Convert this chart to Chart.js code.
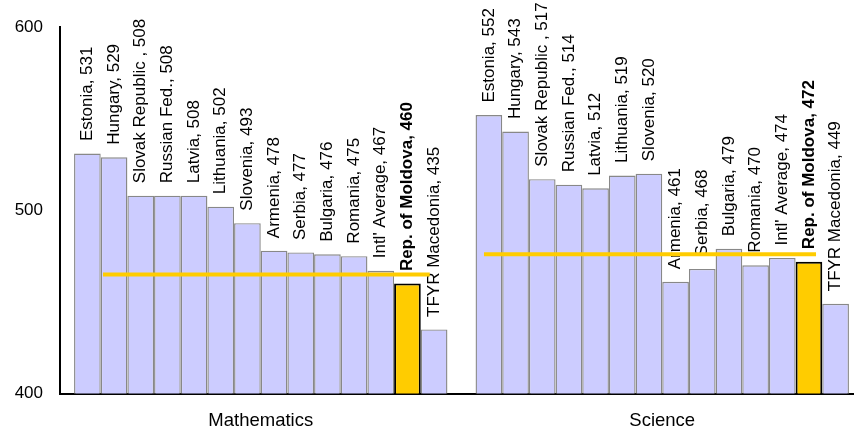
<!DOCTYPE html>
<html>
<head>
<meta charset="utf-8">
<script src="https://cdn.jsdelivr.net/npm/chart.js@4/dist/chart.umd.min.js"></script>
<style>
  html, body { margin: 0; padding: 0; background: #fff; overflow: hidden; }
  #wrap { width: 866px; height: 428px; }
</style>
</head>
<body>
<div id="wrap"><canvas id="c" width="866" height="428"></canvas></div>
<script>
// Subjects shown as the two bar groups
const categories = ['Mathematics', 'Science'];
// Countries, in the order their bars appear inside each group
const countries = [
  'Estonia', 'Hungary', 'Slovak Republic ', 'Russian Fed.', 'Latvia', 'Lithuania',
  'Slovenia', 'Armenia', 'Serbia', 'Bulgaria', 'Romania', "Intl' Average",
  'Rep. of Moldova', 'TFYR Macedonia'
];
const mathScores    = [531, 529, 508, 508, 508, 502, 493, 478, 477, 476, 475, 467, 460, 435];
const scienceScores = [552, 543, 517, 514, 512, 519, 520, 461, 468, 479, 470, 474, 472, 449];
// Reference level of the yellow bar drawn across each group
const averageLevel = [465, 476];
const yTicks = [400, 500, 600];
const highlighted = 'Rep. of Moldova';

const FONT = "'Liberation Sans', Arial, Helvetica, sans-serif";
Chart.defaults.font.family = FONT;
Chart.defaults.color = '#000';

// One bar dataset per country; x is the group index (0 = Mathematics, 1 = Science)
const barSets = countries.map((name, i) => {
  const hi = name === highlighted;
  return {
    type: 'bar',
    label: name,
    data: [mathScores[i], scienceScores[i]].map((v, g) => ({ x: g, y: v })),
    backgroundColor: hi ? '#ffcc00' : '#ccccff',
    borderColor: hi ? '#000000' : '#888888',
    borderWidth: hi ? 2 : 1.4,
    borderSkipped: 'bottom',
    categoryPercentage: 0.93,
    barPercentage: 1,
    order: 2
  };
});

// Horizontal average bars, placed on the same group-index axis
const lineSpans = [[-0.393, 0.421], [0.556, 1.383]];
const lineSets = averageLevel.map((lvl, g) => ({
  type: 'line',
  data: [{ x: lineSpans[g][0], y: lvl }, { x: lineSpans[g][1], y: lvl }],
  borderColor: '#ffcc00',
  borderWidth: 4,
  pointRadius: 0,
  fill: false,
  order: 1
}));

// Rotated "Country, value" text above each bar
const barLabels = {
  id: 'barLabels',
  afterDatasetDraw(chart, args) {
    const meta = args.meta;
    if (meta.type !== 'bar') return;
    const ds = chart.data.datasets[args.index];
    const ctx = chart.ctx;
    const bold = ds.label === highlighted;
    meta.data.forEach((bar, j) => {
      const text = ds.label + ', ' + ds.data[j].y;
      ctx.save();
      ctx.translate(bar.x, bar.y - 12.5);
      ctx.rotate(-Math.PI / 2);
      ctx.font = (bold ? 'bold ' : '') + '17px ' + FONT;
      ctx.fillStyle = '#000';
      ctx.textAlign = 'left';
      ctx.textBaseline = 'middle';
      ctx.fillText(text, 0, 0);
      ctx.restore();
    });
  }
};

new Chart(document.getElementById('c'), {
  type: 'bar',
  data: { datasets: [...barSets, ...lineSets] },
  options: {
    responsive: false,
    devicePixelRatio: 1,
    animation: false,
    events: [],
    layout: { padding: { top: 27, right: 3, left: 0, bottom: 0 } },
    plugins: { legend: { display: false }, tooltip: { enabled: false } },
    scales: {
      x: {
        type: 'linear',
        min: -0.5,
        max: 1.5,
        offset: false,
        grid: { display: false, drawTicks: false },
        border: { display: true, color: '#000', width: 2 },
        afterBuildTicks(s) { s.ticks = categories.map((c, i) => ({ value: i })); },
        ticks: {
          font: { size: 18.5 },
          color: '#000',
          padding: 16,
          maxRotation: 0,
          autoSkip: false,
          callback: (v) => categories[v]
        },
        afterFit(s) { s.height = 34.5; }
      },
      y: {
        type: 'linear',
        min: yTicks[0],
        max: yTicks[yTicks.length - 1],
        grid: { display: false, drawTicks: false },
        border: { display: true, color: '#000', width: 2 },
        afterBuildTicks(s) { s.ticks = yTicks.map(v => ({ value: v })); },
        ticks: { font: { size: 17 }, color: '#000', padding: 17 },
        afterFit(s) { s.width = 60; }
      }
    }
  },
  plugins: [barLabels]
});
</script>
</body>
</html>
